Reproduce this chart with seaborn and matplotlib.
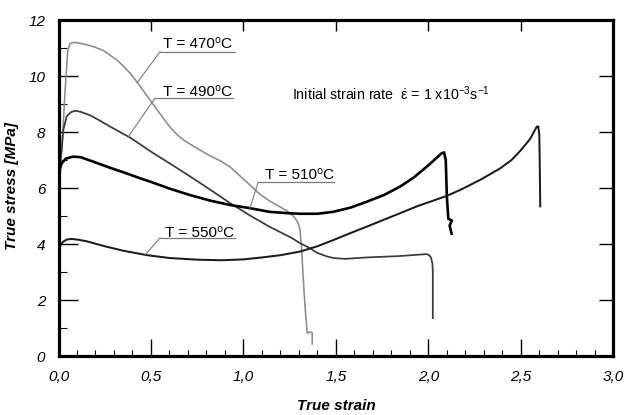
import numpy as np
import pandas as pd
import seaborn as sns
import matplotlib
matplotlib.use("Agg")
import matplotlib.pyplot as plt
from matplotlib import font_manager
from matplotlib.ticker import FixedLocator, MultipleLocator

# ---------------- data ----------------
strain_470 = [0.005, 0.012, 0.02, 0.035, 0.05, 0.062, 0.089, 0.13, 0.188, 0.24, 0.278, 0.32,
              0.35, 0.39, 0.423, 0.495, 0.567, 0.6, 0.639, 0.675, 0.71, 0.8, 0.88, 0.93,
              0.97, 1.02, 1.09, 1.15, 1.2, 1.25, 1.28, 1.296, 1.306, 1.315, 1.325, 1.335,
              1.345, 1.36, 1.372, 1.372]
stress_470 = [6.0, 6.8, 7.6, 9.4, 10.9, 11.17, 11.2, 11.15, 11.05, 10.92, 10.75, 10.55,
              10.36, 10.08, 9.8, 9.14, 8.49, 8.2, 7.92, 7.72, 7.57, 7.22, 6.95, 6.74,
              6.5, 6.2, 5.77, 5.5, 5.32, 5.12, 4.92, 4.75, 4.5, 3.8, 2.6, 1.6,
              0.82, 0.86, 0.82, 0.4]

strain_490 = [0.003, 0.008, 0.017, 0.026, 0.044, 0.065, 0.089, 0.12, 0.17, 0.22, 0.28, 0.387,
              0.5, 0.62, 0.71, 0.8, 0.93, 1.04, 1.14, 1.2, 1.26, 1.306, 1.36, 1.396, 1.45,
              1.486, 1.55, 1.667, 1.847, 1.95, 1.991, 2.005, 2.015, 2.022, 2.024, 2.024]
stress_490 = [6.2, 6.9, 7.36, 8.07, 8.55, 8.7, 8.76, 8.72, 8.6, 8.42, 8.19, 7.8,
              7.3, 6.8, 6.42, 6.03, 5.45, 5.0, 4.62, 4.42, 4.22, 4.03, 3.85, 3.69, 3.56,
              3.5, 3.47, 3.52, 3.57, 3.62, 3.64, 3.6, 3.5, 3.3, 3.0, 1.32]

strain_510 = [0.0, 0.008, 0.017, 0.04, 0.08, 0.12, 0.188, 0.28, 0.369, 0.44, 0.495, 0.6, 0.71,
              0.82, 0.93, 1.035, 1.14, 1.24, 1.306, 1.4, 1.486, 1.58, 1.667, 1.76, 1.847,
              1.92, 1.991, 2.04, 2.072, 2.085, 2.094, 2.1, 2.108, 2.127, 2.115, 2.127]
stress_510 = [6.3, 6.7, 6.88, 7.05, 7.12, 7.1, 6.94, 6.72, 6.52, 6.35, 6.23, 5.98, 5.75,
              5.55, 5.39, 5.28, 5.15, 5.1, 5.08, 5.08, 5.15, 5.3, 5.51, 5.75, 6.05,
              6.37, 6.76, 7.05, 7.24, 7.27, 7.0, 5.69, 4.9, 4.84, 4.66, 4.32]

strain_550 = [0.0, 0.01, 0.025, 0.045, 0.07, 0.1, 0.15, 0.25, 0.35, 0.48, 0.6, 0.75, 0.88,
              1.0, 1.1, 1.2, 1.306, 1.4, 1.486, 1.575, 1.667, 1.757, 1.847, 1.94, 2.027,
              2.1, 2.172, 2.28, 2.388, 2.45, 2.496, 2.55, 2.586, 2.594, 2.6, 2.603, 2.605]
stress_550 = [3.75, 3.95, 4.08, 4.16, 4.18, 4.16, 4.1, 3.92, 3.76, 3.6, 3.5, 3.44, 3.42,
              3.45, 3.52, 3.6, 3.73, 3.92, 4.14, 4.38, 4.62, 4.86, 5.1, 5.35, 5.55,
              5.72, 5.93, 6.29, 6.7, 7.0, 7.32, 7.75, 8.19, 8.2, 7.9, 6.5, 5.31]

series_names = ["T = 470⁰C", "T = 490⁰C", "T = 510⁰C", "T = 550⁰C"]
x_ticks = [0.0, 0.5, 1.0, 1.5, 2.0, 2.5, 3.0]
x_tick_labels = ["0,0", "0,5", "1,0", "1,5", "2,0", "2,5", "3,0"]
y_ticks = [0, 2, 4, 6, 8, 10, 12]
y_tick_labels = ["0", "2", "4", "6", "8", "10", "12"]

# ---------------- fonts ----------------
sns.set_theme(style="white")
names = {f.name for f in font_manager.fontManager.ttflist}
if "Liberation Sans Narrow" in names:
    FONT = "Liberation Sans Narrow"
    FS = 13
else:
    FONT = "Liberation Sans"
    FS = 11
plt.rcParams["font.family"] = [FONT, "DejaVu Sans"]
plt.rcParams["mathtext.fontset"] = "custom"
plt.rcParams["mathtext.rm"] = FONT
plt.rcParams["mathtext.it"] = FONT + ":italic"
plt.rcParams["mathtext.bf"] = FONT + ":bold"
plt.rcParams["mathtext.fallback"] = "stixsans"

fig = plt.figure(figsize=(6.27, 4.15), dpi=100)
ax = fig.add_axes([58.5 / 627, 1 - 356 / 415, (613.3 - 58.5) / 627, (356 - 20) / 415])

curves = [
    (strain_470, stress_470, "#8c8c8c", 1.15),
    (strain_490, stress_490, "#3a3a3a", 1.25),
    (strain_510, stress_510, "#000000", 1.9),
    (strain_550, stress_550, "#1c1c1c", 1.45),
]
for name, (xs, ys, col, lw) in zip(series_names, curves):
    df = pd.DataFrame({"strain": xs, "stress": ys})
    sns.lineplot(data=df, x="strain", y="stress", sort=False, estimator=None,
                 color=col, linewidth=lw, ax=ax, legend=False)
for ln in ax.get_lines():
    ln.set_solid_joinstyle("round")
    ln.set_solid_capstyle("butt")

ax.set_xlim(0, 3.0)
ax.set_ylim(0, 12)

# spines
for sp in ax.spines.values():
    sp.set_visible(True)
    sp.set_color("black")
    sp.set_linewidth(2.3)

# ticks
ax.xaxis.set_major_locator(FixedLocator(x_ticks))
ax.xaxis.set_minor_locator(MultipleLocator(0.1))
ax.yaxis.set_major_locator(FixedLocator(y_ticks))
ax.yaxis.set_minor_locator(MultipleLocator(1))
ax.set_xticklabels(x_tick_labels)
ax.set_yticklabels(y_tick_labels)
ax.tick_params(axis="x", which="major", direction="in", length=12, width=1.0, color="black",
               pad=10, labelsize=FS, top=False, bottom=True)
ax.tick_params(axis="x", which="minor", direction="in", length=4, width=0.8, color="black",
               top=False, bottom=True)
ax.tick_params(axis="y", which="major", direction="in", length=14, width=1.0, color="black",
               pad=9.5, labelsize=FS, left=True, right=False)
ax.tick_params(axis="y", which="minor", direction="in", length=6, width=0.8, color="black",
               left=True, right=False)
for lab in ax.get_xticklabels() + ax.get_yticklabels():
    lab.set_fontstyle("italic")
    lab.set_color("black")

# top & right ticks (major only)
sec_x = ax.secondary_xaxis("top")
sec_x.xaxis.set_major_locator(FixedLocator([0.5, 1.0, 1.5, 2.0, 2.5]))
sec_x.tick_params(direction="in", length=8, width=1.0, color="black", labeltop=False)
sec_x.spines["top"].set_visible(False)
sec_y = ax.secondary_yaxis("right")
sec_y.yaxis.set_major_locator(FixedLocator([2, 4, 6, 8, 10]))
sec_y.tick_params(direction="in", length=10, width=1.0, color="black", labelright=False)
sec_y.spines["right"].set_visible(False)

# axis labels
ax.set_xlabel("True strain", fontsize=FS, fontweight="bold", fontstyle="italic", color="black")
ax.xaxis.set_label_coords(0.5, -0.128)
ax.set_ylabel("True stress [MPa]", fontsize=FS, fontweight="bold", fontstyle="italic", color="black")
ax.yaxis.set_label_coords(-0.072, 0.507)

# annotations: label text, underline, leader line
label_geom = [
    (0.566, 11.0, 0.549, 0.957, 10.87, 0.425, 9.75),
    (0.565, 9.29, 0.522, 0.944, 9.21, 0.376, 7.82),
    (1.117, 6.32, 1.08, 1.49, 6.21, 1.035, 5.28),
    (0.577, 4.26, 0.549, 0.955, 4.22, 0.468, 3.61),
]
for txt, (tx, ty, ux0, ux1, uy, lx, ly) in zip(series_names, label_geom):
    ax.text(tx, ty, txt, fontsize=FS, color="black", ha="left", va="baseline")
    ax.plot([ux0, ux1], [uy, uy], color="#7a7a7a", lw=0.9)
    ax.plot([ux0, lx], [uy, ly], color="#7a7a7a", lw=0.8)

ax.text(1.263, 9.14,
        r"Initial strain rate  $\dot{\mathregular{ε}}$ = 1 x10$^{\mathregular{-3}}$s$^{\mathregular{-1}}$",
        fontsize=FS * 0.93, color="black", ha="left", va="baseline")

fig.savefig("out.png", dpi=100)
